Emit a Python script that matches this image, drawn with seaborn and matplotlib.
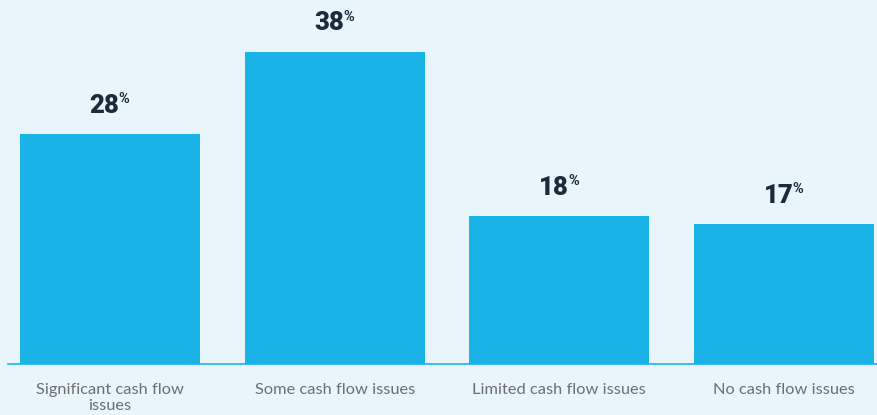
import matplotlib
matplotlib.use("Agg")
import matplotlib.pyplot as plt
import seaborn as sns
import pandas as pd

categories = ["Significant cash flow\nissues", "Some cash flow issues",
              "Limited cash flow issues", "No cash flow issues"]
values = [28, 38, 18, 17]

BG = "#e8f6fc"
BAR = "#19b3e8"
DARK = "#1c2b39"
GREY = "#6d6e70"

sns.set_theme(style="white")
plt.rcParams["font.family"] = ["Lato", "DejaVu Sans"]

df = pd.DataFrame({"category": categories, "value": values})

fig = plt.figure(figsize=(8.77, 4.15), dpi=100, facecolor=BG)
ax = fig.add_axes([8 / 877, 51 / 415, 1 - 8 / 877, 1 - 51 / 415])
ax.set_facecolor(BG)

sns.barplot(data=df, x="category", y="value", color=BAR, saturation=1,
            width=0.8, linewidth=0, edgecolor=BAR, ax=ax)

ax.set_xlim(-0.454, 3.414)
ax.set_ylim(0, 44.33)
ax.set_xlabel("")
ax.set_ylabel("")
ax.set_yticks([])
for side in ["top", "right", "left"]:
    ax.spines[side].set_visible(False)
ax.spines["bottom"].set_color(BAR)
ax.spines["bottom"].set_linewidth(1.2)
ax.tick_params(axis="x", length=0, pad=13.5, labelsize=11.8, labelcolor=GREY)
for lab in ax.get_xticklabels():
    lab.set_linespacing(1.22)
    lab.set_verticalalignment("top")

# Value labels: heavy number followed by a smaller raised percent sign
NUM_OFF = 15.5
PCT_OFF = 22.5
fig.canvas.draw()
renderer = fig.canvas.get_renderer()
for i, v in enumerate(values):
    num = ax.annotate(str(v), xy=(i, v), xytext=(0, NUM_OFF), textcoords="offset points",
                      ha="left", va="baseline", fontsize=18.5, fontweight="black",
                      family="Roboto", color=DARK)
    pct = ax.annotate("%", xy=(i, v), xytext=(0, PCT_OFF), textcoords="offset points",
                      ha="left", va="baseline", fontsize=10.5, fontweight="bold",
                      family="Roboto", color=DARK)
    w_num = num.get_window_extent(renderer).width * 72 / fig.dpi
    w_pct = pct.get_window_extent(renderer).width * 72 / fig.dpi
    total = w_num + w_pct
    start = -total / 2
    num.set_position((start, NUM_OFF))
    pct.set_position((start + w_num - 0.5, PCT_OFF))

fig.savefig("out.png", dpi=100, facecolor=BG)
